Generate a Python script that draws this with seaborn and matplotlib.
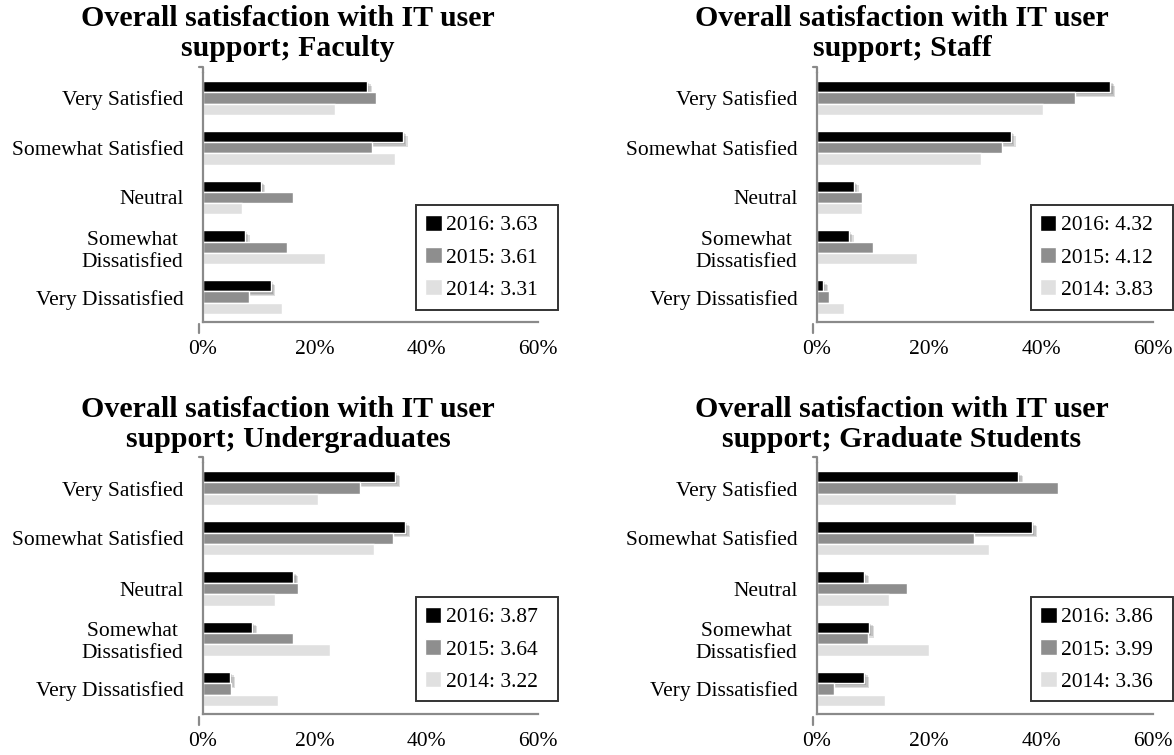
import pandas as pd
import matplotlib.pyplot as plt
import matplotlib.patheffects as pe
from matplotlib.ticker import PercentFormatter
import seaborn as sns

# survey data (percent of respondents)
categories = ["Very Satisfied", "Somewhat Satisfied", "Neutral",
              "Somewhat \nDissatisfied", "Very Dissatisfied"]
years = ["2016", "2015", "2014"]

faculty_2016 = [29.4, 35.8, 10.3, 7.5, 12.1]
faculty_2015 = [31.0, 30.2, 16.2, 15.1, 8.2]
faculty_2014 = [23.6, 34.3, 6.9, 21.8, 14.2]
faculty_means = [3.63, 3.61, 3.31]

staff_2016 = [52.4, 34.6, 6.6, 5.7, 1.1]
staff_2015 = [46.1, 33.0, 8.0, 10.0, 2.1]
staff_2014 = [40.4, 29.3, 8.0, 17.9, 4.8]
staff_means = [4.32, 4.12, 3.83]

undergrad_2016 = [34.4, 36.2, 16.2, 8.8, 4.9]
undergrad_2015 = [28.1, 34.0, 17.0, 16.2, 5.1]
undergrad_2014 = [20.6, 30.6, 12.9, 22.8, 13.5]
undergrad_means = [3.87, 3.64, 3.22]

grad_2016 = [35.9, 38.4, 8.4, 9.3, 8.4]
grad_2015 = [43.0, 28.0, 16.1, 9.1, 3.0]
grad_2014 = [24.8, 30.7, 12.9, 20.0, 12.1]
grad_means = [3.86, 3.99, 3.36]

panels = [
    ("Faculty", [faculty_2016, faculty_2015, faculty_2014], faculty_means),
    ("Staff", [staff_2016, staff_2015, staff_2014], staff_means),
    ("Undergraduates", [undergrad_2016, undergrad_2015, undergrad_2014], undergrad_means),
    ("Graduate Students", [grad_2016, grad_2015, grad_2014], grad_means),
]

colors = {"2016": "#000000", "2015": "#8e8e8e", "2014": "#e0e0e0"}

sns.set_style("white")
plt.rcParams['font.family'] = ['Liberation Serif', 'DejaVu Serif']
plt.rcParams['text.color'] = 'black'
plt.rcParams['xtick.color'] = 'black'
plt.rcParams['ytick.color'] = 'black'

W, H = 1174, 755
fig = plt.figure(figsize=(W / 100, H / 100), dpi=100)

# axes boxes in pixels: (left, top, right, bottom)
boxes = [(203, 73, 538, 322), (817, 73, 1153, 322),
         (203, 463, 538, 714), (817, 463, 1153, 714)]
title_tops = [5, 5, 396, 396]

for (group, series, means), (l, t, r, b), tt in zip(panels, boxes, title_tops):
    ax = fig.add_axes([l / W, 1 - b / H, (r - l) / W, (b - t) / H])
    rows = []
    for yr, vals in zip(years, series):
        for cat, v in zip(categories, vals):
            rows.append({"category": cat, "year": yr, "value": v})
    df = pd.DataFrame(rows)

    sns.barplot(data=df, y="category", x="value", hue="year", order=categories,
                hue_order=years, palette=colors, orient="h", width=0.68,
                saturation=1, gap=0, ax=ax)

    # soft drop shadow on the 2016 bars
    shadow = [pe.SimplePatchShadow(offset=(k, -k), alpha=0.13, shadow_rgbFace="#000000")
              for k in (3.5, 2.5, 1.5)]
    for bar in ax.containers[0]:
        bar.set_path_effects(shadow + [pe.Normal()])

    ax.set_xlim(0, 60)
    ax.set_ylim(4.5, -0.5)
    ax.set_xticks([0, 20, 40, 60])
    ax.xaxis.set_major_formatter(PercentFormatter(decimals=0))
    ax.set_xlabel("")
    ax.set_ylabel("")
    ax.tick_params(axis="x", length=0, pad=13, labelsize=15.5)
    ax.tick_params(axis="y", length=0, pad=14, labelsize=15.5)
    for lab in ax.get_yticklabels():
        lab.set_multialignment("right")

    for side in ["top", "right"]:
        ax.spines[side].set_visible(False)
    for side in ["left", "bottom"]:
        ax.spines[side].set_color("#8a8a8a")
        ax.spines[side].set_linewidth(1.6)

    # little axis-break hooks like the original
    ax.plot([0, 0, -0.012], [1.0, 1.025, 1.025], transform=ax.transAxes,
            color="#8a8a8a", lw=1.6, clip_on=False)
    ax.plot([-0.012, -0.012], [-0.01, -0.045], transform=ax.transAxes,
            color="#8a8a8a", lw=1.6, clip_on=False)

    handles, _ = ax.get_legend_handles_labels()
    labels = [f"{yr}: {m:.2f}  " for yr, m in zip(years, means)]
    leg = ax.legend(handles, labels, loc="lower right", bbox_to_anchor=(1.06, 0.05),
                    frameon=True, fancybox=False, edgecolor="black", fontsize=15.5,
                    handlelength=0.75, handleheight=0.75, handletextpad=0.2,
                    labelspacing=0.55, borderpad=0.45, borderaxespad=0)
    leg.get_frame().set_linewidth(1.4)

    cx = (l + 85) / W
    fig.text(cx, 1 - tt / H, "Overall satisfaction with IT user\nsupport; " + group,
             ha="center", va="top", fontsize=21.5, fontweight="bold", linespacing=1.12)

fig.savefig("out.png", dpi=100)
plt.close(fig)
